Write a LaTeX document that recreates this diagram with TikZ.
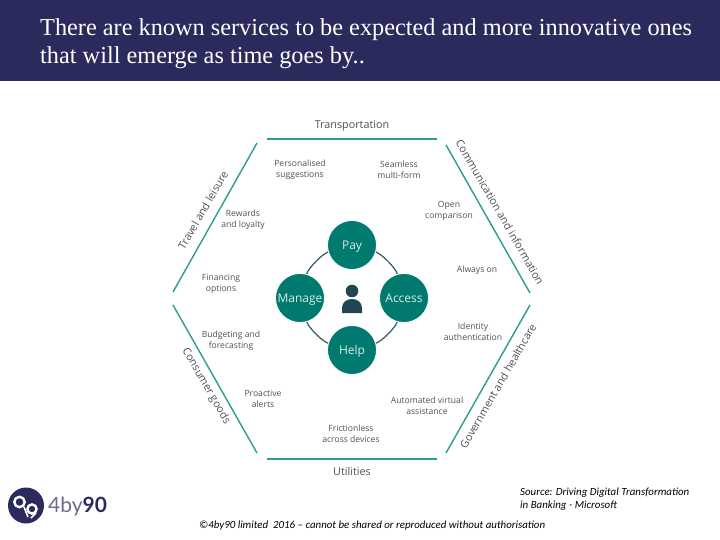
\documentclass[tikz,border=0pt]{standalone}
\usepackage{fontspec}
\setmainfont{Open Sans}
\newfontfamily\titlefont{Liberation Serif}
\newfontfamily\notefont{Carlito}
\newfontfamily\logofont{Lato}
\definecolor{headblue}{HTML}{2B2A5C}
\definecolor{hubteal}{HTML}{007A6E}
\definecolor{linkblue}{HTML}{2F5A66}
\definecolor{iconblue}{HTML}{1E4753}
\definecolor{sideteal}{HTML}{2A9D90}
\definecolor{labelgray}{HTML}{505050}
\begin{document}
\begin{tikzpicture}[x=1pt, y=-1pt,
    hub/.style={circle, fill=hubteal, draw=white, line width=0.8pt, minimum size=49pt, inner sep=0pt, text=white!85!hubteal, text height=8.7pt, text depth=0pt, font=\fontsize{12}{14}\selectfont},
    link/.style={draw=linkblue, line width=1.2pt, looseness=0.5},
    side/.style={draw=sideteal, line width=1.4pt},
    sector/.style={text=labelgray, font=\fontsize{10.8}{12}\selectfont},
    service/.style={text=labelgray, align=center, font=\fontsize{8.6}{10.5}\selectfont},
    head/.style={anchor=base west, inner sep=0pt, text=white, font=\titlefont\fontsize{24.3}{29}\selectfont},
    note/.style={font=\notefont\itshape\fontsize{10.9}{13}\selectfont, align=left}]
    \useasboundingbox (0,0) rectangle (720,540);
    %Kopfzeile
    \fill[headblue] (0,0) rectangle (720,81);
    \node[head] (line1) at (40,35.5) {There are known services to be expected and more innovative ones};
    \node[head] (line2) at (40,64) {that will emerge as time goes by..};
    %Sechseck
    \draw[side] (267,139) -- (437,139);
    \draw[side] (267,459) -- (437,459);
    \draw[side] (257,143) -- (173,292);
    \draw[side] (446,145) -- (530,293);
    \draw[side] (173,305) -- (257,453);
    \draw[side] (530,305) -- (446,453);
    %Sektoren
    \node[sector] (transport) at (352,125.5) {Transportation};
    \node[sector] (utilities) at (352,471) {Utilities};
    \node[sector, rotate=60] (travel) at (203,210) {Travel and leisure};
    \node[sector, rotate=-60] (comm) at (500,212) {Communication and information};
    \node[sector, rotate=-60] (consumer) at (206,386) {Consumer goods};
    \node[sector, rotate=60] (gov) at (498,386) {Government and healthcare};
    %Dienste
    \foreach \name/\px/\py/\txt in {
        pers/300/170/{Personalised\\suggestions},
        seam/399/170/{Seamless\\multi-form},
        open/449/211/{Open\\comparison},
        rew/243/220/{Rewards\\and loyalty},
        fin/221/284/{Financing\\options},
        always/477/270/{Always on},
        ident/473/332/{Identity\\authentication},
        budg/231/341/{Budgeting and\\forecasting},
        proa/263/399/{Proactive\\alerts},
        auto/427/406/{Automated virtual\\assistance},
        fric/351/434/{Frictionless\\across devices}}
        \node[service] (\name) at (\px,\py) {\txt};
    %Kreise
    \node[hub] (pay) at (352,245) {Pay};
    \node[hub] (access) at (404,298) {Access};
    \node[hub] (help) at (352,350) {Help};
    \node[hub] (manage) at (300,298) {Manage};
    \draw[link] (pay) to[bend left=29] (access);
    \draw[link] (access) to[bend left=29] (help);
    \draw[link] (help) to[bend left=29] (manage);
    \draw[link] (manage) to[bend left=29] (pay);
    %Person
    \fill[iconblue] (352,291) circle (6.3);
    \fill[iconblue] (342,313) -- (342,308) .. controls (342,302) and (347,299) .. (352,299) .. controls (357,299) and (362,302) .. (362,308) -- (362,313) -- cycle;
    %Logo
    \fill[headblue] (26,505.5) circle (18);
    \draw[white, line width=2.4pt] (19.5,502) circle (5.2);
    \draw[white, line width=2.4pt] (32,509) circle (4.6);
    \draw[white, line width=1.6pt] (24,507) -- (28,517);
    \draw[white, line width=1.6pt] (36,513) -- (31,518);
    \node[anchor=base west, inner sep=0pt, font=\logofont\fontsize{21}{25}\selectfont, text=headblue!70] (logo) at (48,512) {4by\textcolor{headblue}{\bfseries 90}};
    %Quelle
    \node[note, anchor=north west, inner sep=0pt] (source) at (520,487.5) {Source: Driving Digital Transformation\\in Banking - Microsoft};
    \node[note, anchor=base west, inner sep=0pt] (copy) at (199,528) {©4by90 limited\ \ 2016 – cannot be shared or reproduced without authorisation};
\end{tikzpicture}
\end{document}
